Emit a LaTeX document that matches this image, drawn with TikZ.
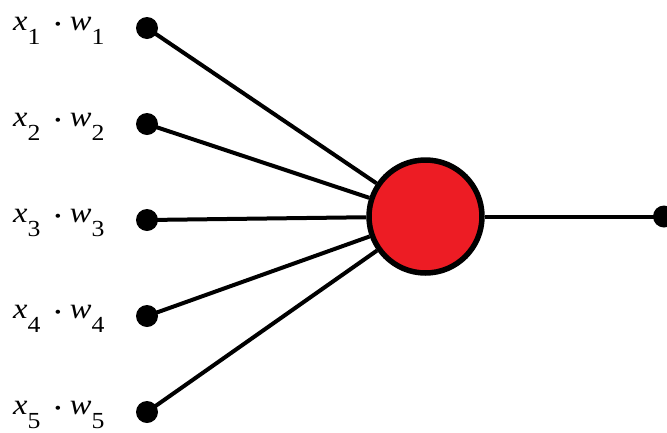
\documentclass[tikz,border=0pt]{standalone}
\usepackage{fontspec}
\setmainfont{Liberation Serif}
\newcommand{\subsz}[1]{\raisebox{-14pt}{\fontsize{23}{23}\selectfont #1}}
\newcommand{\lab}[1]{\scalebox{1.12}[1]{\textit{x}\subsz{#1}\hspace{10pt}\raisebox{-4.5pt}{\fontsize{34}{34}\selectfont ·}\hspace{5pt}\textit{w}\subsz{#1}}}
\definecolor{neuronred}{HTML}{ED1C24}
\tikzset{
  inputdot/.style={circle,fill=black,inner sep=0pt,minimum size=22pt},
  neuron/.style={circle,draw=black,line width=5.5pt,fill=neuronred,inner sep=0pt,minimum size=113pt},
  link/.style={line width=4pt},
  lbl/.style={anchor=base west,inner sep=0pt,font=\fontsize{29}{29}\selectfont}
}
\begin{document}
\begin{tikzpicture}[x=1pt,y=-1pt]
\useasboundingbox (0,0) rectangle (667,432);
\node[neuron] (n) at (425.5,216.5) {};
\foreach \i/\y in {1/28,2/124,3/220,4/316,5/412}{
  \node[inputdot] (d\i) at (147,\y) {};
  \node[lbl] (l\i) at (13,\y+2.5) {\lab{\i}};
  \draw[link] (d\i.center) -- (n);
}
\node[inputdot] (out) at (664,216.5) {};
\draw[link] (n) -- (out.center);
\end{tikzpicture}
\end{document}
